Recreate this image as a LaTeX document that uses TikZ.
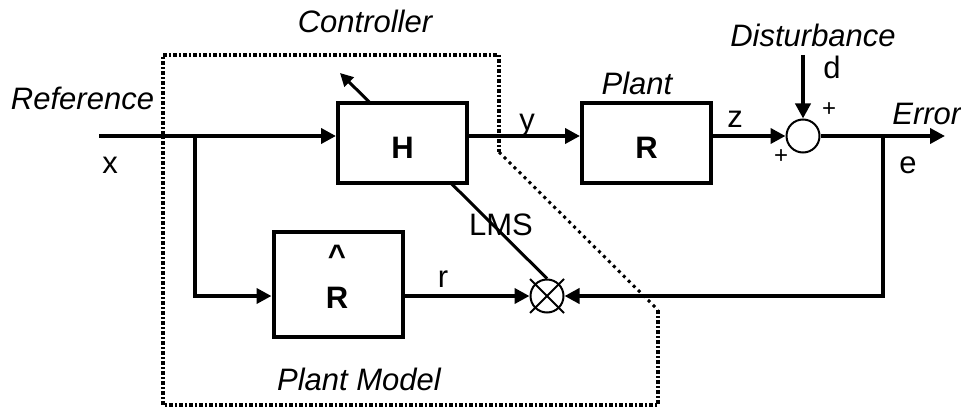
\documentclass[tikz,border=0pt]{standalone}
\usepackage{fontspec}
\setmainfont{Liberation Sans}
\usetikzlibrary{arrows.meta, positioning, calc, backgrounds}

\begin{document}
\begin{tikzpicture}[
    x=0.5pt, y=-0.5pt,
    base/.style={font=\fontsize{15.5}{18}\selectfont, inner sep=0pt},
    block/.style={base, draw, line width=2pt, fill=white, minimum width=64.5pt, minimum height=40pt, font=\fontsize{15.5}{18}\selectfont\bfseries, text height=16pt, text depth=0pt},
    junction/.style={circle, draw, line width=1pt, fill=white, minimum size=16.5pt, inner sep=0pt},
    signal/.style={-{Triangle[length=7.5pt, width=7.5pt]}, line width=2pt},
    lms/.style={-{Triangle[length=6.5pt, width=6.5pt]}, line width=1.5pt},
    labelStyle/.style={base, anchor=base},
    titleStyle/.style={base, anchor=base, font=\fontsize{15.5}{18}\selectfont\itshape},
    signStyle/.style={base, font=\fontsize{12}{14}\selectfont},
    group/.style={line width=2pt, dash pattern=on 2pt off 1pt on 1pt off 1pt},
    groupDiag/.style={line width=1.5pt, dotted}
]
\useasboundingbox (0,0) rectangle (961,411);

\coordinate (xin) at (99,136);
\coordinate (split) at (195,136);
\coordinate (etap) at (883,136);
\coordinate (eout) at (945,136);
\coordinate (dist) at (803,55);
\coordinate (adapt) at (340,73);

\node[block] (H) at (402.5,143) {H};
\node[block, right=55.5pt of H] (Plant) {R};
\node[block, minimum height=52.5pt] (Rhat) at (338,284.5) {};
\node[base, font=\fontsize{15.5}{18}\selectfont\bfseries, align=center] (RhatText) at (337,277) {\textasciicircum\\[3pt]R};

\node[junction] (sum) at (803,136) {};
\node[junction] (mult) at (547,296) {};

\begin{scope}[on background layer]
\draw[lms] (mult.north) -- (adapt);
\end{scope}

\draw[signal] (xin) -- (xin -| H.west);
\draw[signal] (H.east |- xin) -- (Plant.west |- xin);
\draw[signal] (Plant.east |- xin) -- (sum.west);
\draw[signal] (sum.east) -- (eout);
\draw[signal] (dist) -- (sum.north);
\draw[signal] (split) |- (Rhat.west |- mult);
\draw[signal] (Rhat.east |- mult) -- (mult.west);
\draw[signal] (etap) |- (mult.east);
\draw[line width=1pt] ($(mult.center)+(-17,-17)$) -- ($(mult.center)+(17,17)$);
\draw[line width=1pt] ($(mult.center)+(-17,17)$) -- ($(mult.center)+(17,-17)$);

\draw[group] (163,55) -- (499,55) -- (499,152);
\draw[groupDiag] (499,152) -- (658,310);
\draw[group] (658,310) -- (658,405) -- (163,405) -- (163,55);

\node[titleStyle] (ctrlLbl) at (365,33) {Controller};
\node[titleStyle] (refLbl) at (82.5,110) {Reference};
\node[labelStyle] (xLbl) at (110,173) {x};
\node[labelStyle] (yLbl) at (527,131) {y};
\node[titleStyle] (plantLbl) at (637,95) {Plant};
\node[labelStyle] (zLbl) at (735,128) {z};
\node[titleStyle] (distLbl) at (813,47) {Disturbance};
\node[labelStyle] (dLbl) at (832,79) {d};
\node[signStyle] (plusD) at (829,110) {+};
\node[signStyle] (plusZ) at (781,157) {+};
\node[titleStyle, anchor=base west] (errLbl) at (892,125) {Error};
\node[labelStyle] (eLbl) at (908,173) {e};
\node[labelStyle] (lmsLbl) at (501,235) {LMS};
\node[labelStyle] (rLbl) at (443,287) {r};
\node[titleStyle] (pmLbl) at (359,390) {Plant Model};

\end{tikzpicture}
\end{document}
